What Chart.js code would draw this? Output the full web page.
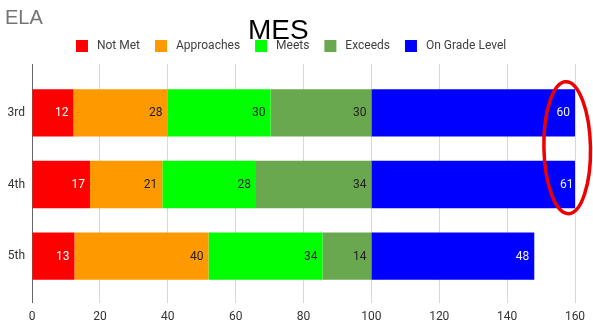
<!DOCTYPE html>
<html>
<head>
<meta charset="utf-8">
<script src="https://cdn.jsdelivr.net/npm/chart.js@4/dist/chart.umd.min.js"></script>
<style>
  html, body { margin: 0; padding: 0; background: #fff; }
  #wrap { position: relative; width: 593px; height: 329px; }
</style>
</head>
<body>
<div id="wrap"><canvas id="c" width="593" height="329"></canvas></div>
<script>
// ---- data ----
const categories = ['3rd', '4th', '5th'];
const seriesNames = ['Not Met', 'Approaches', 'Meets', 'Exceeds', 'On Grade Level'];
const notMet = [12.2, 17.1, 12.5];
const approaches = [27.7, 21.3, 39.5];
const meets = [30.4, 27.6, 33.6];
const exceeds = [29.7, 34.0, 14.4];
const onGradeLevel = [60, 61, 48];
const xTickMin = 0;
const xTickMax = 160;
const xTickStep = 20;
const chartTitle = 'MES';
const subjectLabel = 'ELA';

// ---- styles ----
const colors = ['#ff0000', '#ff9900', '#00ff00', '#6aa84f', '#0000ff'];
const labelColors = ['#ffffff', '#222222', '#222222', '#222222', '#f0f0ff'];
const FONT = 'Roboto, "Liberation Sans", Arial, sans-serif';

const seriesValues = [notMet, approaches, meets, exceeds, onGradeLevel];
const datasets = seriesNames.map((name, i) => ({
  label: ' ' + name,
  data: seriesValues[i],
  backgroundColor: colors[i],
  borderWidth: 0,
  categoryPercentage: 0.66,
  barPercentage: 1.0
}));

const valueLabelPlugin = {
  id: 'valueLabels',
  afterDatasetsDraw(chart) {
    const ctx = chart.ctx;
    ctx.save();
    ctx.font = '12px ' + FONT;
    ctx.textAlign = 'right';
    ctx.textBaseline = 'middle';
    chart.data.datasets.forEach((ds, di) => {
      const meta = chart.getDatasetMeta(di);
      meta.data.forEach((el, idx) => {
        const v = ds.data[idx];
        ctx.fillStyle = labelColors[di];
        ctx.fillText(String(Math.round(v)), el.x - 5, el.y + 0.5);
      });
    });
    ctx.restore();
  }
};

const decorPlugin = {
  id: 'decor',
  afterLayout(chart) {
    // nudge the centred legend row slightly right, as in the reference
    if (chart.legend) {
      chart.legend.left += 3.6;
      chart.legend.right += 3.6;
    }
  },
  afterDraw(chart) {
    const ctx = chart.ctx;
    ctx.save();
    ctx.fillStyle = '#757575';
    ctx.font = '20px "Liberation Sans", Arial, sans-serif';
    ctx.textAlign = 'left';
    ctx.textBaseline = 'alphabetic';
    ctx.fillText(subjectLabel, 5, 24);
    ctx.fillStyle = '#000000';
    ctx.font = '28px "Liberation Sans", Arial, sans-serif';
    ctx.fillText(chartTitle, 248, 39);
    // hand-drawn red ellipse annotation
    const xs = chart.scales.x, ys = chart.scales.y;
    const cx = xs.getPixelForValue(157.7);
    const cy = (ys.getPixelForValue(0) + ys.getPixelForValue(1)) / 2 - 1;
    ctx.strokeStyle = '#ee0000';
    ctx.lineWidth = 3.5;
    ctx.beginPath();
    ctx.ellipse(cx, cy, 23.3, 66, -0.02, 0, Math.PI * 2);
    ctx.stroke();
    ctx.restore();
  }
};

const gridColor = (c) => (c.tick && c.tick.value === 0) ? '#666666' : '#d9d9d9';

new Chart(document.getElementById('c'), {
  type: 'bar',
  data: { labels: categories, datasets },
  options: {
    indexAxis: 'y',
    responsive: false,
    animation: false,
    devicePixelRatio: 1,
    layout: { padding: { top: 25, right: 18, bottom: 4, left: 0 } },
    plugins: {
      title: { display: false },
      tooltip: { enabled: false },
      legend: {
        position: 'top',
        labels: {
          boxWidth: 12,
          boxHeight: 12,
          padding: 15,
          color: '#404040',
          font: { size: 12, family: FONT }
        }
      }
    },
    scales: {
      x: {
        stacked: true,
        min: xTickMin,
        max: xTickMax,
        position: 'bottom',
        border: { display: false },
        grid: { color: gridColor, lineWidth: 1, drawTicks: true, tickLength: 11 },
        ticks: { stepSize: xTickStep, padding: 7, color: '#333333', font: { size: 12, family: FONT } },
        afterFit(scale) { scale.height = 33; }
      },
      x2: {
        type: 'linear',
        axis: 'x',
        min: xTickMin,
        max: xTickMax,
        position: 'top',
        border: { display: false },
        grid: { color: gridColor, lineWidth: 1, drawOnChartArea: false, drawTicks: true, tickLength: 13 },
        ticks: { stepSize: xTickStep, display: false },
        afterFit(scale) { scale.height = 15; }
      },
      y: {
        stacked: true,
        border: { display: false },
        grid: { display: false, drawTicks: false },
        ticks: { padding: 7, color: '#333333', font: { size: 12, family: FONT } },
        afterFit(scale) { scale.width = 32; }
      }
    }
  },
  plugins: [valueLabelPlugin, decorPlugin]
});
</script>
</body>
</html>
